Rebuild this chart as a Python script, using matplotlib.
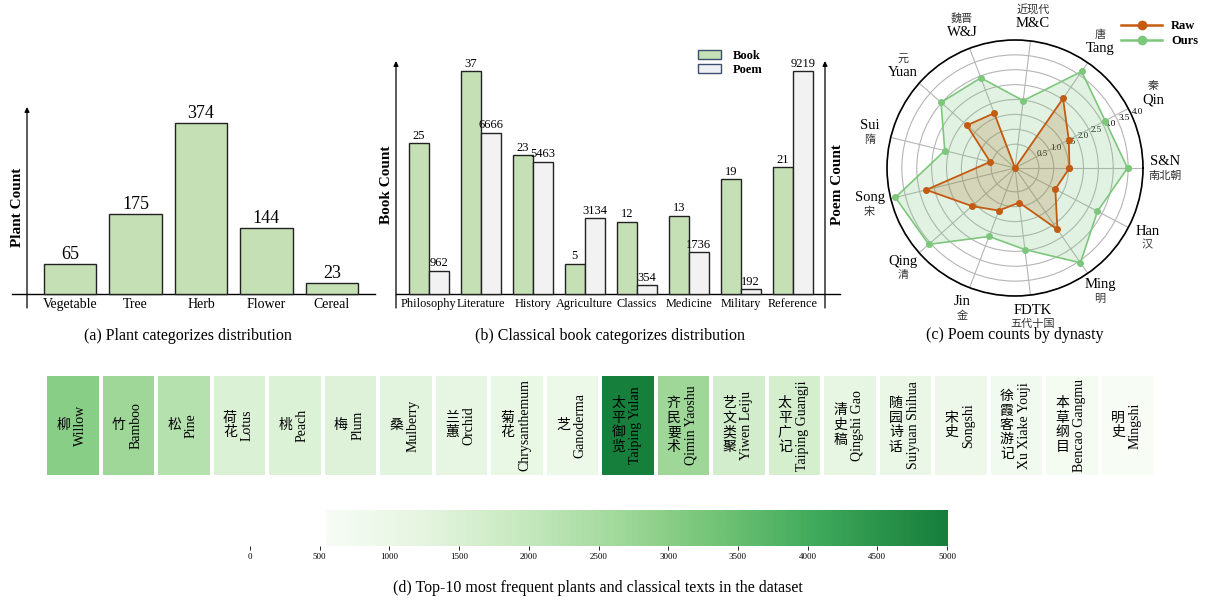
import numpy as np
import matplotlib
matplotlib.use('Agg')
import matplotlib.pyplot as plt
import matplotlib.transforms as mtransforms
from matplotlib.colors import LinearSegmentedColormap
from matplotlib.lines import Line2D
from matplotlib.patches import Patch

plt.rcParams['font.family'] = ['Liberation Serif', 'Noto Sans CJK SC', 'DejaVu Sans']
plt.rcParams['axes.unicode_minus'] = False

# (a) plant categories
plant_cats = ['Vegetable', 'Tree', 'Herb', 'Flower', 'Cereal']
plant_counts = [65, 175, 374, 144, 23]

# (b) classical book categories
book_cats = ['Philosophy', 'Literature', 'History', 'Agriculture',
             'Classics', 'Medicine', 'Military', 'Reference']
book_counts = [25, 37, 23, 5, 12, 13, 19, 21]
poem_counts = [962, 6666, 5463, 3134, 354, 1736, 192, 9219]

# (c) poem counts by dynasty (log scale values)
dyn_en = ['S&N', 'Qin', 'Tang', 'M&C', 'W&J', 'Yuan', 'Sui',
          'Song', 'Qing', 'Jin', 'FDTK', 'Ming', 'Han']
dyn_zh = ['南北朝', '秦', '唐', '近现代', '魏晋', '元', '隋',
          '宋', '清', '金', '五代十国', '明', '汉']
raw_vals = [1.53, 1.74, 2.54, -0.3, 1.67, 1.86, 0.56, 2.77, 1.63, 1.23, 0.87, 2.21, 1.23]
ours_vals = [3.48, 3.12, 3.64, 1.98, 2.94, 3.02, 2.13, 3.84, 3.57, 2.16, 2.46, 3.57, 2.83]
r_ticks = [0.5, 1.0, 1.5, 2.0, 2.5, 3.0, 3.5, 4.0]

# (d) top-10 plants and texts
top_zh = ['柳', '竹', '松', '荷花', '桃', '梅', '桑', '兰蕙', '菊花', '芝',
          '太平御览', '齐民要术', '艺文类聚', '太平广记', '清史稿', '随园诗话',
          '宋史', '徐霞客游记', '本草纲目', '明史']
top_en = ['Willow', 'Bamboo', 'Pine', 'Lotus', 'Peach', 'Plum', 'Mulberry',
          'Orchid', 'Chrysanthemum', 'Ganoderma', 'Taiping Yulan', 'Qimin Yaoshu',
          'Yiwen Leiju', 'Taiping Guangji', 'Qingshi Gao', 'Suiyuan Shihua',
          'Songshi', 'Xu Xiake Youji', 'Bencao Gangmu', 'Mingshi']
top_freq = [3000, 2700, 2300, 1500, 1450, 1400, 1300, 1200, 1100, 1000,
            5000, 2700, 1700, 1650, 1200, 1050, 900, 800, 700, 545]
cbar_ticks = [0, 500, 1000, 1500, 2000, 2500, 3000, 3500, 4000, 4500, 5000]

GREEN = '#c5e0b4'
LIGHT = '#f2f2f2'
EDGE = '#222222'
RAW = '#c55a11'
OURS = '#7cc77c'

W, H = 1205, 601
fig = plt.figure(figsize=(W / 100, H / 100), dpi=100)


def box(l, t, r, b):
    return [l / W, 1 - b / H, (r - l) / W, (b - t) / H]


def arrow_axis(ax, x):
    ax.annotate('', xy=(x, 1), xytext=(x, 0), xycoords='axes fraction',
                arrowprops=dict(arrowstyle='-|>', lw=0.9, color='black',
                                mutation_scale=7, shrinkA=0, shrinkB=0))


def clean(ax):
    for s in ax.spines.values():
        s.set_visible(False)
    ax.set_yticks([])


# ---- (a) ----
ax_a = fig.add_axes(box(27, 107, 375, 308))
x_a = np.arange(len(plant_cats))
ax_a.bar(x_a, plant_counts, width=0.8, color=GREEN, edgecolor=EDGE, linewidth=1.0, zorder=3)
for xi, v in zip(x_a, plant_counts):
    ax_a.annotate(str(v), (xi, v), xytext=(0, 1), textcoords='offset points',
                  ha='center', va='bottom', fontsize=13)
ax_a.set_xlim(-0.66, 4.66)
ax_a.set_ylim(-31, 410)
clean(ax_a)
ax_a.spines['bottom'].set_position(('data', 0))
ax_a.set_xticks(x_a, plant_cats, fontsize=10)
ax_a.tick_params(axis='x', length=0, pad=3)
ax_a.plot([-0.043, 1], [0, 0], transform=ax_a.get_yaxis_transform(),
          color='black', lw=1.0, clip_on=False)
arrow_axis(ax_a, 0)
ax_a.set_ylabel('Plant Count', fontsize=11, fontweight='bold', labelpad=2)

# ---- (b) ----
ax_b = fig.add_axes(box(396, 61, 825, 308))
x_b = np.arange(len(book_cats))
w = 0.385
ax_b.bar(x_b - w / 2, book_counts, w, color=GREEN, edgecolor=EDGE, linewidth=1.0, zorder=3)
for xi, v in zip(x_b, book_counts):
    ax_b.annotate(str(v), (xi - w / 2, v), xytext=(0, 1), textcoords='offset points',
                  ha='center', va='bottom', fontsize=9)
ax_b.set_xlim(-0.63, 7.62)
ax_b.set_ylim(-2.32, 38.64)
clean(ax_b)
ax_b.spines['bottom'].set_position(('data', 0))
ax_b.set_xticks(x_b, book_cats, fontsize=8.8)
ax_b.tick_params(axis='x', length=0, pad=3)
ax_b.plot([0, 1.035], [0, 0], transform=ax_b.get_yaxis_transform(),
          color='black', lw=1.0, clip_on=False)
arrow_axis(ax_b, 0)
ax_b.set_ylabel('Book Count', fontsize=11, fontweight='bold', labelpad=2)

ax_p = ax_b.twinx()
ax_p.bar(x_b + w / 2, poem_counts, w, color=LIGHT, edgecolor=EDGE, linewidth=1.0, zorder=3)
for xi, v in zip(x_b, poem_counts):
    ax_p.annotate(str(v), (xi + w / 2, v), xytext=(0, 1), textcoords='offset points',
                  ha='center', va='bottom', fontsize=9)
ax_p.set_ylim(-578, 9628)
clean(ax_p)
arrow_axis(ax_p, 1)
ax_p.set_ylabel('Poem Count', fontsize=11, fontweight='bold', labelpad=4)
ax_p.yaxis.set_label_position('right')

fig.legend(handles=[Patch(facecolor=GREEN, edgecolor='#3c4f6e', lw=1.0),
                    Patch(facecolor='#eef0f4', edgecolor='#3c4f6e', lw=1.0)],
           labels=['Book', 'Poem'], loc='upper left',
           bbox_to_anchor=(698 / W, 1 - 50 / H), frameon=False,
           prop={'weight': 'bold', 'size': 9}, handlelength=1.8, handleheight=0.7,
           handletextpad=1.0, labelspacing=0.15, borderpad=0, borderaxespad=0)

# ---- (c) ----
ax_c = fig.add_axes(box(887, 40, 1143, 296), projection='polar')
n = len(dyn_en)
theta = np.linspace(0, 2 * np.pi, n, endpoint=False)
th = np.append(theta, theta[0])
ours_c = np.append(ours_vals, ours_vals[0])
raw_c = np.append(raw_vals, raw_vals[0])
ax_c.fill(th, ours_c, color=OURS, alpha=0.22, lw=0, zorder=2)
ax_c.plot(th, ours_c, color=OURS, lw=1.2, marker='o', ms=4, zorder=3)
ax_c.fill(th, raw_c, color='#a8742a', alpha=0.22, lw=0, zorder=2)
ax_c.plot(th, raw_c, color=RAW, lw=1.3, marker='o', ms=4, zorder=4)
ax_c.set_ylim(-0.3, 4.0)
ax_c.set_yticks(r_ticks)
ax_c.set_yticklabels([f'{t:.1f}' for t in r_ticks], fontsize=6.5)
ax_c.set_rlabel_position(24)
ax_c.set_xticks(theta)
ax_c.set_xticklabels([])
ax_c.grid(color='#b5b5b5', lw=0.8)
ax_c.spines['polar'].set_linewidth(1.2)

for t, en, zh in zip(theta, dyn_en, dyn_zh):
    zh_above = 0.3 < t < 2.6
    r_lab = 4.95 if 0.3 < t < 0.6 else 4.73
    en_dy, zh_dy = (-3.0, 7.0) if zh_above else (4.5, -5.5)
    tr_en = mtransforms.offset_copy(ax_c.transData, fig=fig, y=en_dy, units='points')
    tr_zh = mtransforms.offset_copy(ax_c.transData, fig=fig, y=zh_dy, units='points')
    ax_c.text(t, r_lab, en, transform=tr_en, ha='center', va='center', fontsize=10.5)
    ax_c.text(t, r_lab, zh, transform=tr_zh, ha='center', va='center', fontsize=8, color='#333333')

fig.legend(handles=[Line2D([0], [0], color=RAW, lw=1.8, marker='o', ms=6),
                    Line2D([0], [0], color=OURS, lw=1.8, marker='o', ms=6)],
           labels=['Raw', 'Ours'], loc='upper left',
           bbox_to_anchor=(1121 / W, 1 - 20 / H), frameon=False,
           prop={'weight': 'bold', 'size': 9}, handlelength=3.3,
           handletextpad=0.7, labelspacing=0.25, borderpad=0, borderaxespad=0)

# ---- (d) ----
greens = plt.get_cmap('Greens')
cmap = LinearSegmentedColormap.from_list('greens_08', greens(np.linspace(0, 0.8, 256)))
norm = plt.Normalize(min(top_freq), max(top_freq))

ax_d = fig.add_axes(box(45, 374, 1155, 477))
ax_d.pcolormesh(np.array([top_freq]), cmap=cmap, norm=norm,
                edgecolors='white', linewidth=1.5)
ax_d.set_xlim(0, len(top_freq))
ax_d.set_ylim(0, 1)
ax_d.axis('off')
for i, (zh, en) in enumerate(zip(top_zh, top_en)):
    ax_d.text(i + 0.5 - 0.17, 0.5, '\n'.join(zh), ha='center', va='center',
              fontsize=10, linespacing=1.15)
    ax_d.text(i + 0.5 + 0.14, 0.5, en, rotation=90, ha='center', va='center', fontsize=10)

ax_cb = fig.add_axes(box(250, 510, 947, 546))
grad = np.linspace(norm.vmin, norm.vmax, 512)[None, :]
ax_cb.imshow(grad, aspect='auto', cmap=cmap, norm=norm,
             extent=(norm.vmin, norm.vmax, 0, 1))
ax_cb.set_xlim(0, 5000)
ax_cb.set_ylim(0, 1)
clean(ax_cb)
ax_cb.set_xticks(cbar_ticks)
ax_cb.tick_params(axis='x', labelsize=6.5, length=3, width=0.6, pad=2)

# captions
fig.text(188 / W, 1 - 336 / H, '(a) Plant categorizes distribution',
         ha='center', va='center', fontsize=11.5)
fig.text(610 / W, 1 - 336 / H, '(b) Classical book categorizes distribution',
         ha='center', va='center', fontsize=11.5)
fig.text(1015 / W, 1 - 335 / H, '(c) Poem counts by dynasty',
         ha='center', va='center', fontsize=11.5)
fig.text(598 / W, 1 - 588 / H, '(d) Top-10 most frequent plants and classical texts in the dataset',
         ha='center', va='center', fontsize=11.5)

fig.savefig('out.png', dpi=100)
